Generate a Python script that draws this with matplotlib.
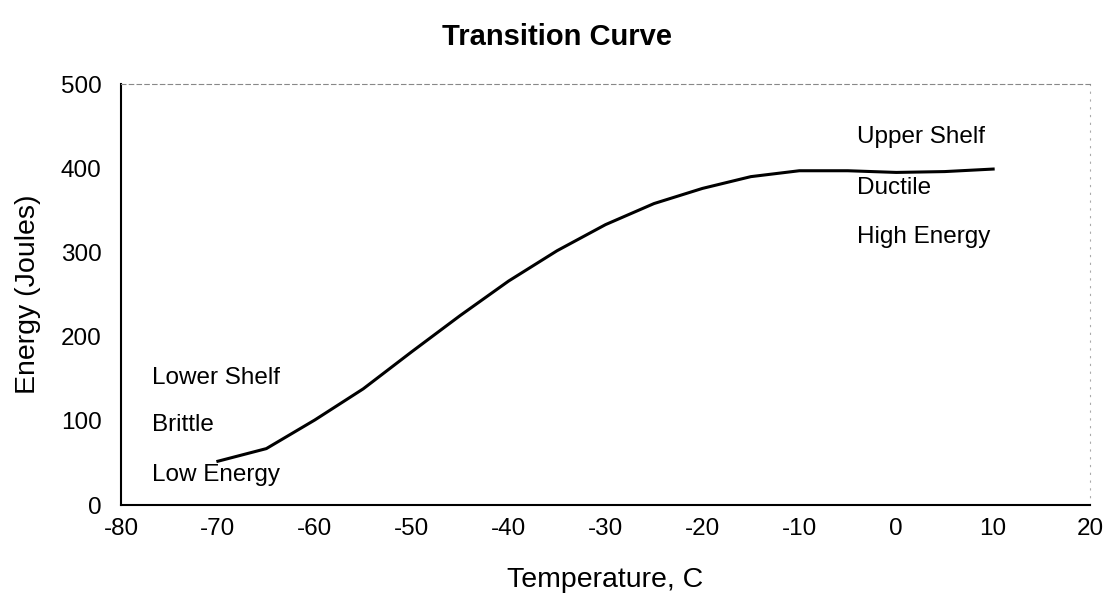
import matplotlib.pyplot as plt

plt.rcParams['font.family'] = ['Liberation Sans', 'DejaVu Sans']
plt.rcParams['axes.unicode_minus'] = False

# curve
temps = [-70, -65, -60, -55, -50, -45, -40, -35, -30, -25, -20, -15, -10, -5, 0, 5, 10]
energy = [52, 67, 101, 138, 182, 225, 266, 302, 333, 358, 376, 390, 397, 397, 395, 396, 399]

x_ticks = [-80, -70, -60, -50, -40, -30, -20, -10, 0, 10, 20]
y_ticks = [0, 100, 200, 300, 400, 500]

# region labels (x, y, text)
notes_left = [(-76.8, 151, "Lower Shelf"), (-76.8, 95, "Brittle"), (-76.8, 36, "Low Energy")]
notes_right = [(-4.0, 437, "Upper Shelf"), (-4.0, 377, "Ductile"), (-4.0, 318, "High Energy")]

fig = plt.figure(figsize=(11.14, 6.07), dpi=100)
ax = fig.add_axes([0.1086, 0.168, 0.8699, 0.6936])

ax.plot(temps, energy, color='black', linewidth=2.2, solid_joinstyle='round')

for x, y, s in notes_left + notes_right:
    ax.text(x, y, s, fontsize=17.5, va='center', ha='left')

ax.set_xlim(-80, 20)
ax.set_ylim(0, 500)
ax.set_xticks(x_ticks)
ax.set_yticks(y_ticks)
ax.tick_params(length=0, labelsize=17.5)
ax.tick_params(axis='y', pad=14)
ax.tick_params(axis='x', pad=9)

ax.spines['left'].set_linewidth(1.5)
ax.spines['bottom'].set_linewidth(1.5)
ax.spines['top'].set_color('#888888')
ax.spines['top'].set_linestyle((0, (4, 3)))
ax.spines['top'].set_linewidth(0.8)
ax.spines['right'].set_color('#aaaaaa')
ax.spines['right'].set_linestyle((0, (1, 6)))
ax.spines['right'].set_linewidth(0.8)

ax.set_xlabel('Temperature, C', fontsize=20.5, labelpad=20)
ax.set_ylabel('Energy (Joules)', fontsize=20.5, labelpad=14)
fig.suptitle('Transition Curve', fontsize=21, fontweight='bold', y=0.962)

fig.savefig('out.png', dpi=100)
